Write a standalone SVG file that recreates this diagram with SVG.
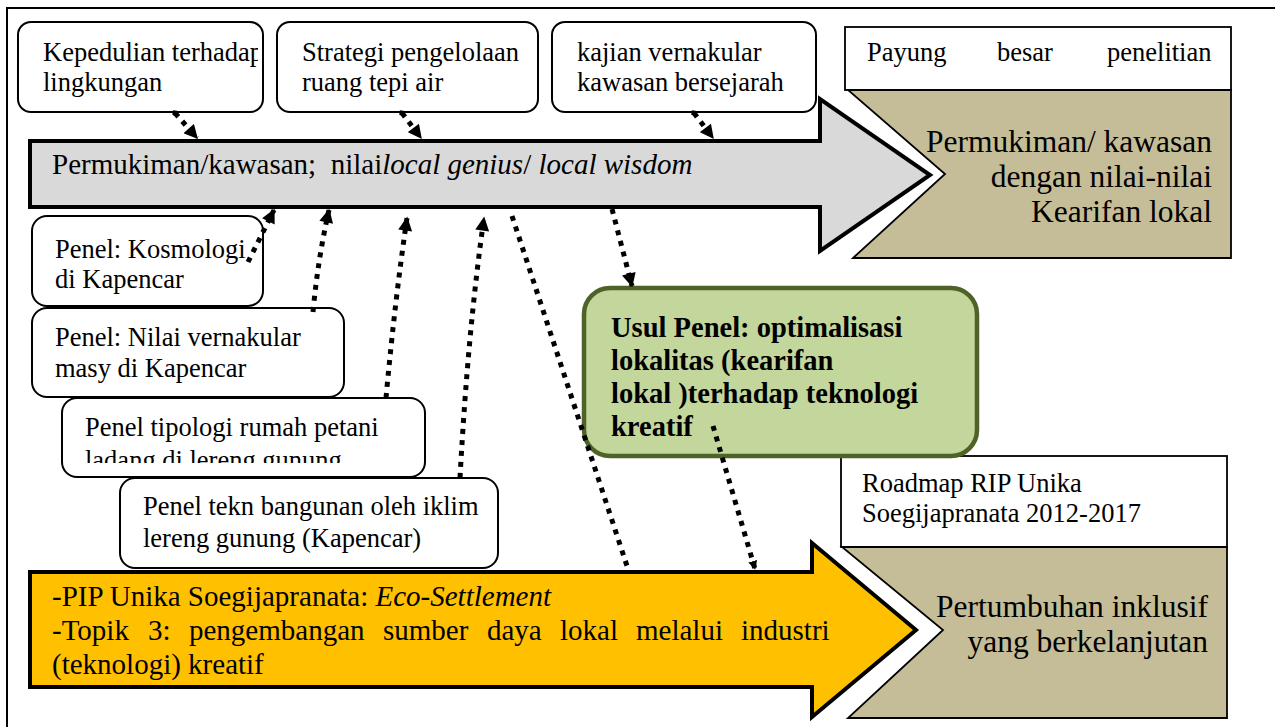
<svg xmlns="http://www.w3.org/2000/svg" width="1275" height="727" viewBox="0 0 1275 727">
  <style>
    text { font-family: "Liberation Serif", "Times New Roman", serif; fill: #000; }
    .box { fill: #fff; stroke: #000; stroke-width: 2; }
    .lbl { font-size: 26.5px; }
    .big { font-size: 31.5px; }
    .mid { font-size: 29px; }
    .bold { font-size: 28.5px; font-weight: bold; }
    .tan { fill: #C4BD97; stroke: #000; stroke-width: 1.8; }
    .dot { fill: none; stroke: #000; stroke-width: 5; stroke-dasharray: 5 6; }
    .it { font-style: italic; }
  </style>
  <defs>
    <marker id="head" viewBox="0 0 10 10" refX="9" refY="5" markerUnits="userSpaceOnUse" markerWidth="15" markerHeight="14" orient="auto">
      <path d="M0,0 L10,5 L0,10 z" fill="#000"/>
    </marker>
    <marker id="headSmall" viewBox="0 0 10 10" refX="9" refY="5" markerUnits="userSpaceOnUse" markerWidth="9" markerHeight="9" orient="auto">
      <path d="M0,0 L10,5 L0,10 z" fill="#000"/>
    </marker>
    <marker id="diamond" viewBox="0 0 10 10" refX="5" refY="5" markerUnits="userSpaceOnUse" markerWidth="7" markerHeight="7" orient="auto">
      <path d="M0,5 L5,0 L10,5 L5,10 z" fill="#000"/>
    </marker>
    <clipPath id="clipBox1"><rect x="18" y="22" width="240" height="90"/></clipPath>
    <clipPath id="clipP3"><rect x="62" y="398" width="363" height="65"/></clipPath>
  </defs>

  <!-- outer frame -->
  <path d="M7,727 L7,8 L1275,8" fill="none" stroke="#000" stroke-width="2"/>

  <!-- gray main arrow -->
  <g id="arrow-local">
    <polygon points="30,141 820,141 820,99 930,175 820,251 820,207 30,207" fill="#D9D9D9" stroke="#000" stroke-width="4" stroke-linejoin="miter"/>
    <text class="mid" x="52" y="174" xml:space="preserve">Permukiman/kawasan;  nilai<tspan class="it">local genius</tspan>/ <tspan class="it">local wisdom</tspan></text>
  </g>

  <!-- yellow bottom arrow -->
  <g id="arrow-pip">
    <polygon points="30,572 812,572 812,543 916,630 812,717 812,687 30,687" fill="#FFC000" stroke="#000" stroke-width="4"/>
    <text class="mid" x="52" y="606">-PIP Unika Soegijapranata: <tspan class="it">Eco-Settlement</tspan></text>
    <text class="mid" y="640">
      <tspan x="52">-Topik</tspan><tspan x="148">3:</tspan><tspan x="189">pengembangan</tspan><tspan x="383">sumber</tspan><tspan x="487">daya</tspan><tspan x="560">lokal</tspan><tspan x="636">melalui</tspan><tspan x="741">industri</tspan>
    </text>
    <text class="mid" x="52" y="674">(teknologi) kreatif</text>
  </g>

  <!-- top topic boxes -->
  <g id="topic-lingkungan">
    <rect class="box" x="18" y="22" width="245" height="90" rx="13"/>
    <g clip-path="url(#clipBox1)">
      <text class="lbl" x="43" y="61">Kepedulian terhadap</text>
      <text class="lbl" x="43" y="91">lingkungan</text>
    </g>
  </g>
  <g id="topic-tepi-air">
    <rect class="box" x="277" y="22" width="261" height="90" rx="13"/>
    <text class="lbl" x="302" y="61">Strategi pengelolaan</text>
    <text class="lbl" x="302" y="91">ruang tepi air</text>
  </g>
  <g id="topic-vernakular">
    <rect class="box" x="552" y="22" width="264" height="90" rx="13"/>
    <text class="lbl" x="577" y="61">kajian vernakular</text>
    <text class="lbl" x="577" y="91">kawasan bersejarah</text>
  </g>

  <!-- research umbrella, top right -->
  <g id="payung">
    <rect x="845" y="27" width="386" height="63" fill="#fff" stroke="#000" stroke-width="1.8"/>
    <text class="lbl" y="61"><tspan x="867">Payung</tspan><tspan x="997">besar</tspan><tspan x="1107">penelitian</tspan></text>
  </g>
  <g id="goal-kearifan">
    <polygon class="tan" points="848,90 1231,90 1231,258 853,258 945,174"/>
    <text class="big" x="1212" y="152" text-anchor="end">Permukiman/ kawasan</text>
    <text class="big" x="1212" y="187" text-anchor="end">dengan nilai-nilai</text>
    <text class="big" x="1212" y="222" text-anchor="end">Kearifan lokal</text>
  </g>

  <!-- roadmap, bottom right -->
  <g id="roadmap">
    <rect x="841" y="456" width="386" height="91" fill="#fff" stroke="#000" stroke-width="1.8"/>
    <text class="lbl" x="862" y="492">Roadmap RIP Unika</text>
    <text class="lbl" x="862" y="522">Soegijapranata 2012-2017</text>
  </g>
  <g id="goal-inklusif">
    <polygon class="tan" points="842,547 1227,547 1227,718 848,718 943,630"/>
    <text class="big" x="1208" y="617" text-anchor="end">Pertumbuhan inklusif</text>
    <text class="big" x="1208" y="652" text-anchor="end">yang berkelanjutan</text>
  </g>

  <!-- panel boxes -->
  <g id="penel-kosmologi">
    <rect class="box" x="32" y="216" width="231" height="90" rx="15"/>
    <text class="lbl" x="55" y="258">Penel: Kosmologi</text>
    <text class="lbl" x="55" y="288">di Kapencar</text>
  </g>
  <g id="penel-nilai">
    <rect class="box" x="32" y="308" width="312" height="89" rx="15"/>
    <text class="lbl" x="55" y="346">Penel: Nilai vernakular</text>
    <text class="lbl" x="55" y="377">masy di Kapencar</text>
  </g>
  <g id="penel-tipologi">
    <rect class="box" x="62" y="398" width="363" height="79" rx="15"/>
    <g clip-path="url(#clipP3)">
      <text class="lbl" x="85" y="436">Penel tipologi rumah petani</text>
      <text class="lbl" x="85" y="469">ladang di lereng gunung</text>
    </g>
  </g>
  <g id="penel-tekn">
    <rect class="box" x="120" y="478" width="378" height="90" rx="15"/>
    <text class="lbl" x="143" y="515">Penel tekn bangunan oleh iklim</text>
    <text class="lbl" x="143" y="547">lereng gunung (Kapencar)</text>
  </g>

  <!-- proposed panel -->
  <g id="usul-penel">
    <rect x="584" y="288" width="393" height="168" rx="26" fill="#C3D69B" stroke="#4F6228" stroke-width="4.5"/>
    <text class="bold" x="611" y="337">Usul Penel: optimalisasi</text>
    <text class="bold" x="611" y="370">lokalitas (kearifan</text>
    <text class="bold" x="611" y="403">lokal )terhadap teknologi</text>
    <text class="bold" x="611" y="436">kreatif</text>
  </g>

  <!-- dotted connectors -->
  <g id="connectors">
    <path class="dot" d="M175,113 L197,138" marker-start="url(#diamond)" marker-end="url(#head)"/>
    <path class="dot" d="M402,113 L421,138" marker-start="url(#diamond)" marker-end="url(#head)"/>
    <path class="dot" d="M694,113 L713,138" marker-start="url(#diamond)" marker-end="url(#head)"/>
    <path class="dot" d="M612,209 L632,286" marker-end="url(#head)"/>
    <path class="dot" d="M248,262 L274,210" marker-end="url(#head)"/>
    <path class="dot" d="M313,312 Q318,258 329,210" marker-end="url(#head)"/>
    <path class="dot" d="M386,398 Q395,300 407,218" marker-end="url(#head)"/>
    <path class="dot" d="M460,478 Q468,330 484,218" marker-end="url(#head)"/>
    <path class="dot" d="M512,216 L628,569"/>
    <path class="dot" d="M713,426 L755,569" marker-end="url(#headSmall)"/>
  </g>
</svg>
